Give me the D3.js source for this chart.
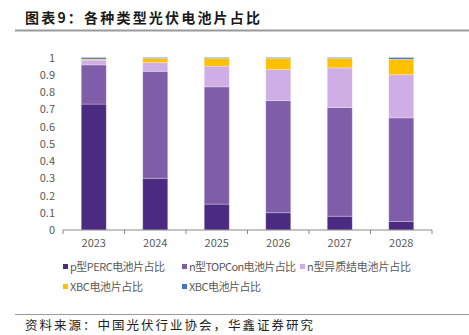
<!DOCTYPE html>
<html lang="zh">
<head>
<meta charset="UTF-8">
<title>各种类型光伏电池片占比</title>
<script src="https://d3js.org/d3.v7.min.js"></script>
<style>
    body { margin: 0; background: #fff; }
    text { font-family: "Noto Sans CJK SC", "Noto Sans", sans-serif; }
</style>
</head>
<body>
<script>
// data
const years = ["2023", "2024", "2025", "2026", "2027", "2028"];
const seriesNames = ["p型PERC电池片占比", "n型TOPCon电池片占比", "n型异质结电池片占比", "XBC电池片占比", "XBC电池片占比"];
const perc   = [0.73, 0.30, 0.15, 0.10, 0.08, 0.05];
const topcon = [0.227, 0.62, 0.68, 0.65, 0.63, 0.60];
const hjt    = [0.028, 0.05, 0.12, 0.18, 0.23, 0.25];
const xbc    = [0.006, 0.025, 0.045, 0.065, 0.055, 0.09];
const xbc2   = [0.009, 0.005, 0.005, 0.005, 0.005, 0.01];
const yTicks = [0, 0.1, 0.2, 0.3, 0.4, 0.5, 0.6, 0.7, 0.8, 0.9, 1];
const colors = ["#4b2a82", "#7f5da8", "#cfaee6", "#ffc000", "#4472c4"];

const width = 469, height = 335;
const margin = {top: 57.5, left: 63, right: 37, bottom: 105};

const svg = d3.select("body").append("svg")
    .attr("width", width)
    .attr("height", height);

// title and rules
svg.append("text")
    .attr("x", 25).attr("y", 23)
    .attr("font-size", 14).attr("font-weight", "bold")
    .attr("fill", "#1a1a1a")
    .attr("textLength", 235).attr("lengthAdjust", "spacing")
    .text("图表9：各种类型光伏电池片占比");
svg.append("line")
    .attr("x1", 15).attr("x2", width).attr("y1", 30.5).attr("y2", 30.5)
    .attr("stroke", "#9a9a9a").attr("stroke-width", 2);
svg.append("line")
    .attr("x1", 15).attr("x2", width).attr("y1", 314.5).attr("y2", 314.5)
    .attr("stroke", "#9a9a9a").attr("stroke-width", 1);
svg.append("text")
    .attr("x", 25).attr("y", 330)
    .attr("font-size", 12.5).attr("fill", "#222")
    .attr("textLength", 288).attr("lengthAdjust", "spacing")
    .text("资料来源：中国光伏行业协会，华鑫证券研究");

const rows = years.map((y, i) => ({
    year: y, s0: perc[i], s1: topcon[i], s2: hjt[i], s3: xbc[i], s4: xbc2[i]
}));
const keys = ["s0", "s1", "s2", "s3", "s4"];
const stacked = d3.stack().keys(keys)(rows);

const x = d3.scaleBand()
    .domain(years)
    .range([margin.left, width - margin.right]);
const y = d3.scaleLinear()
    .domain([0, 1])
    .range([height - margin.bottom, margin.top]);

const barW = 25;

svg.append("g")
    .selectAll("g")
    .data(stacked)
    .join("g")
    .attr("fill", (d, i) => colors[i])
    .selectAll("rect")
    .data(d => d)
    .join("rect")
    .attr("x", d => x(d.data.year) + (x.bandwidth() - barW) / 2)
    .attr("width", barW)
    .attr("y", d => y(d[1]))
    .attr("height", d => y(d[0]) - y(d[1]))
    .attr("stroke", "#ffffff")
    .attr("stroke-opacity", 0.35)
    .attr("stroke-width", 0.8);

// y axis labels, no line
const yAxis = svg.append("g")
    .attr("transform", `translate(${margin.left - 8},0)`)
    .call(d3.axisLeft(y).tickValues(yTicks).tickFormat(d => d === 0 || d === 1 ? String(d) : d3.format(".1f")(d)).tickSize(0));
yAxis.select(".domain").remove();
yAxis.selectAll("text")
    .attr("font-size", 11).attr("fill", "#595959").attr("x", 0);

// x axis with ticks between categories
const xAxisG = svg.append("g")
    .attr("transform", `translate(0,${y(0)})`);
xAxisG.append("line")
    .attr("x1", margin.left).attr("x2", width - margin.right)
    .attr("stroke", "#898989").attr("stroke-width", 1);
const bounds = years.map(d => x(d)).concat([x(years[years.length - 1]) + x.bandwidth()]);
xAxisG.selectAll(".tk")
    .data(bounds)
    .join("line")
    .attr("class", "tk")
    .attr("x1", d => d).attr("x2", d => d)
    .attr("y1", 0).attr("y2", 4)
    .attr("stroke", "#898989");
xAxisG.selectAll(".lbl")
    .data(years)
    .join("text")
    .attr("class", "lbl")
    .attr("x", d => x(d) + x.bandwidth() / 2)
    .attr("y", 17)
    .attr("text-anchor", "middle")
    .attr("font-size", 11).attr("fill", "#595959")
    .text(d => d);

// legend
const legendPos = [[63, 267], [182, 267], [300, 267], [63, 287], [182, 287]];
const legendLen = [95, 107, 104, 73, 72];
const legend = svg.append("g")
    .selectAll("g")
    .data(seriesNames)
    .join("g")
    .attr("transform", (d, i) => `translate(${legendPos[i][0]},${legendPos[i][1]})`);
legend.append("rect")
    .attr("x", 0).attr("y", -3).attr("width", 5).attr("height", 5)
    .attr("fill", (d, i) => colors[i]);
legend.append("text")
    .attr("x", 7).attr("y", 0)
    .attr("dy", "0.35em")
    .attr("font-size", 11).attr("fill", "#595959")
    .attr("textLength", (d, i) => legendLen[i]).attr("lengthAdjust", "spacing")
    .text(d => d);
</script>
</body>
</html>
